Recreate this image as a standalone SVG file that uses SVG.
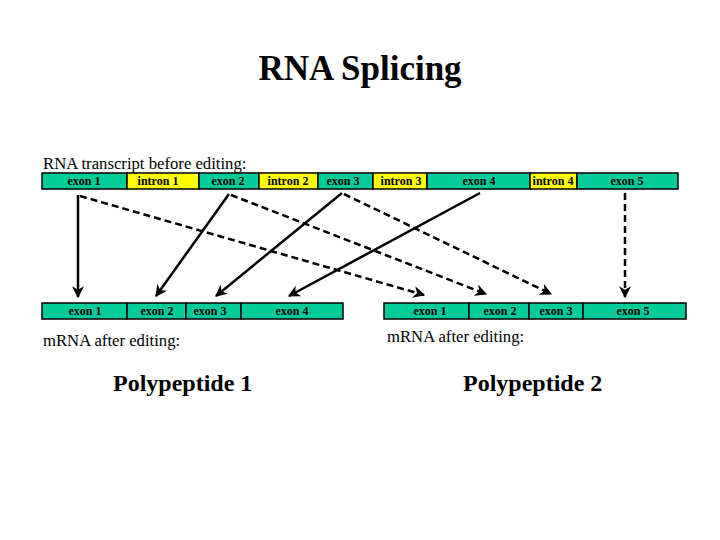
<svg xmlns="http://www.w3.org/2000/svg" width="720" height="540" viewBox="0 0 720 540">
<style>
text{font-family:"Liberation Serif","Times New Roman",serif;fill:#000}
.title{font-size:35px;font-weight:bold}
.cap{font-size:16.7px}
.poly{font-size:24px;font-weight:bold}
.lbl{font-size:12px;font-weight:bold;text-anchor:middle}
.ex{fill:#00CC99;stroke:#000;stroke-width:1.5}
.in{fill:#FFFF00;stroke:#000;stroke-width:1.5}
.solid{stroke:#000;stroke-width:2.5;fill:none;marker-end:url(#ah)}
.dash{stroke:#000;stroke-width:2.5;fill:none;stroke-dasharray:7 4;marker-end:url(#ah)}
</style>
<defs>
<marker id="ah" markerUnits="userSpaceOnUse" markerWidth="12" markerHeight="12" viewBox="0 0 10 10" refX="9" refY="5" orient="auto">
<path d="M0,0 L10,5 L0,10 L3,5 z" fill="#000"/>
</marker>
</defs>
<rect width="720" height="540" fill="#fff"/>
<text class="title" x="360" y="80" text-anchor="middle">RNA Splicing</text>
<text class="cap" x="43" y="169">RNA transcript before editing:</text>

<g id="transcript">
<rect class="ex" x="42" y="173" width="85" height="16"/>
<rect class="in" x="127" y="173" width="72" height="16"/>
<rect class="ex" x="199" y="173" width="60" height="16"/>
<rect class="in" x="259" y="173" width="59" height="16"/>
<rect class="ex" x="318" y="173" width="55" height="16"/>
<rect class="in" x="373" y="173" width="54" height="16"/>
<rect class="ex" x="427" y="173" width="103" height="16"/>
<rect class="in" x="530" y="173" width="47" height="16"/>
<rect class="ex" x="577" y="173" width="101" height="16"/>
<text class="lbl" x="84" y="185">exon 1</text>
<text class="lbl" x="158" y="185">intron 1</text>
<text class="lbl" x="228" y="185">exon 2</text>
<text class="lbl" x="288" y="185">intron 2</text>
<text class="lbl" x="343" y="185">exon 3</text>
<text class="lbl" x="401" y="185">intron 3</text>
<text class="lbl" x="479" y="185">exon 4</text>
<text class="lbl" x="553" y="185">intron 4</text>
<text class="lbl" x="627" y="185">exon 5</text>
</g>

<g id="mrna1">
<rect class="ex" x="42" y="303" width="85" height="16"/>
<rect class="ex" x="127" y="303" width="59" height="16"/>
<rect class="ex" x="186" y="303" width="55" height="16"/>
<rect class="ex" x="241" y="303" width="102" height="16"/>
<text class="lbl" x="85" y="315">exon 1</text>
<text class="lbl" x="157" y="315">exon 2</text>
<text class="lbl" x="210" y="315">exon 3</text>
<text class="lbl" x="292" y="315">exon 4</text>
</g>

<g id="mrna2">
<rect class="ex" x="384" y="303" width="85" height="16"/>
<rect class="ex" x="469" y="303" width="60" height="16"/>
<rect class="ex" x="529" y="303" width="54" height="16"/>
<rect class="ex" x="583" y="303" width="103" height="16"/>
<text class="lbl" x="430" y="315">exon 1</text>
<text class="lbl" x="500" y="315">exon 2</text>
<text class="lbl" x="556" y="315">exon 3</text>
<text class="lbl" x="633" y="315">exon 5</text>
</g>

<g id="connectors">
<line class="solid" x1="78" y1="195" x2="78" y2="297"/>
<line class="solid" x1="229" y1="194" x2="156" y2="296"/>
<line class="solid" x1="342" y1="193" x2="216" y2="296"/>
<line class="solid" x1="480" y1="193" x2="289" y2="296"/>
<line class="dash" x1="80" y1="196" x2="424" y2="295"/>
<line class="dash" x1="231" y1="195" x2="486" y2="294"/>
<line class="dash" x1="344" y1="194" x2="551" y2="294"/>
<line class="dash" x1="625" y1="193" x2="625" y2="297"/>
</g>

<text class="cap" x="43" y="346">mRNA after editing:</text>
<text class="cap" x="387" y="342">mRNA after editing:</text>
<text class="poly" x="113" y="391">Polypeptide 1</text>
<text class="poly" x="463" y="391">Polypeptide 2</text>
</svg>
